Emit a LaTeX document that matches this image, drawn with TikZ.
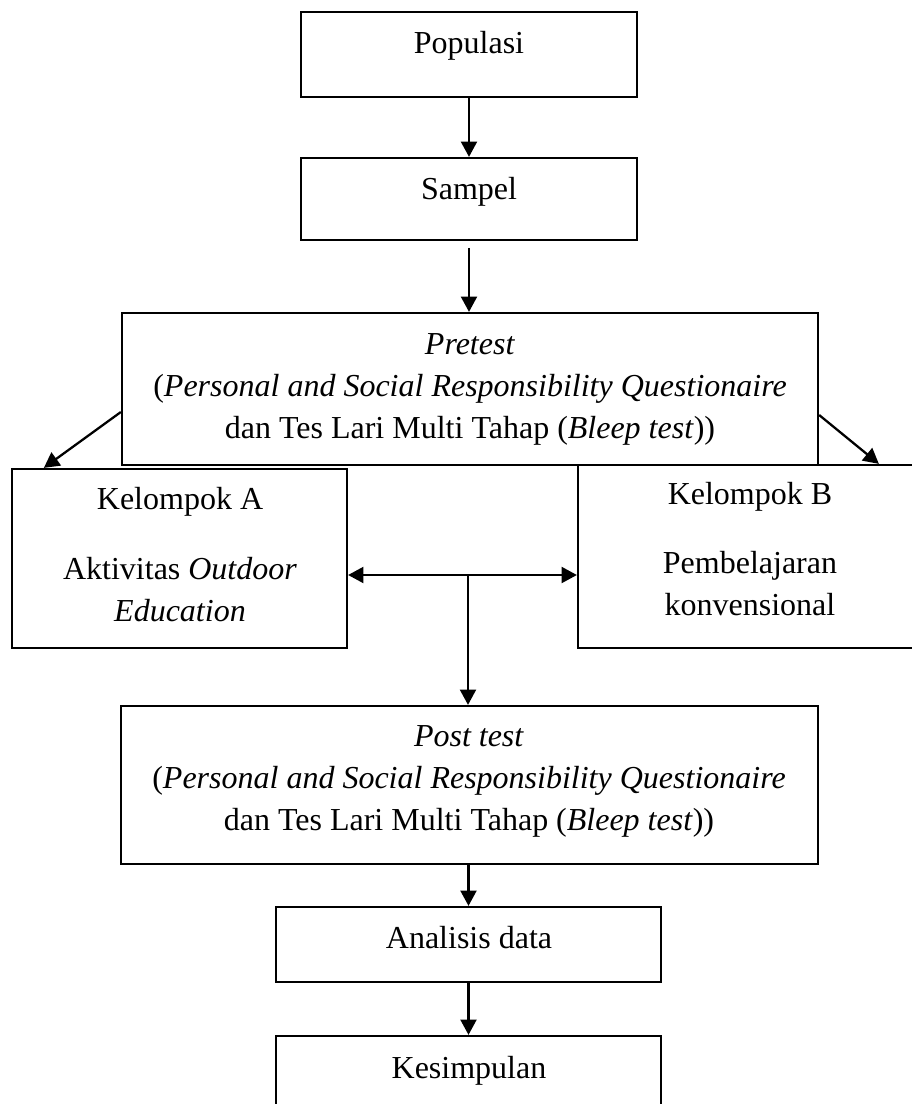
\documentclass[tikz,border=0pt]{standalone}
\usepackage{fontspec}
\setmainfont{Liberation Serif}
\usetikzlibrary{arrows.meta,calc}

\tikzset{every picture/.style={line width=1.7pt}}
\tikzset{
  box/.style={draw, rectangle, inner sep=0pt},
  txt/.style={font=\fontsize{24}{31.5}\selectfont, align=center, inner sep=0pt, anchor=base},
  arr/.style={-{Triangle[length=11.5pt,width=12pt]}}
}

\begin{document}
\begin{tikzpicture}[x=0.75pt,y=0.75pt,yscale=-1,xscale=1]
	\useasboundingbox (0,0) rectangle (912,1104);
	\clip (0,0) rectangle (912,1104);

	%Shape: Rectangles
	\node[box, minimum width=252pt, minimum height=63.75pt] (pop) at (469,54.5) {};
	\node[box, minimum width=252pt, minimum height=61.5pt] (sam) at (469,199) {};
	\node[box, minimum width=522pt, minimum height=114pt] (pre) at (470,389) {};
	\node[box, minimum width=251.25pt, minimum height=134.25pt] (ka) at (179.5,558.5) {};
	\node[box, minimum width=258pt, minimum height=137.25pt] (kb) at (750,556.5) {};
	\node[box, minimum width=522.75pt, minimum height=118.5pt] (post) at (469.5,785) {};
	\node[box, minimum width=288.75pt, minimum height=56.25pt] (ana) at (468.5,944.5) {};
	\node[box, minimum width=288.75pt, minimum height=66pt] (kes) at (468.5,1080) {};

	% Text Node (multi-line ones sit on their last line)
	\node[txt] (popt) at (469,53) {Populasi};
	\node[txt] (samt) at (469,199) {Sampel};
	\node[txt] (pret) at (470,438) {\textit{Pretest}\\(\textit{Personal and Social Responsibility Questionaire}\\dan Tes Lari Multi Tahap (\textit{Bleep test}))};
	\node[txt] (kat) at (180,509) {Kelompok A};
	\node[txt] (kat2) at (180,621) {Aktivitas \textit{Outdoor}\\\textit{Education}};
	\node[txt] (kbt) at (750,504) {Kelompok B};
	\node[txt] (kbt2) at (750,615) {Pembelajaran\\konvensional};
	\node[txt] (postt) at (469,830) {\textit{Post test}\\(\textit{Personal and Social Responsibility Questionaire}\\dan Tes Lari Multi Tahap (\textit{Bleep test}))};
	\node[txt] (anat) at (469,948) {Analisis data};
	\node[txt] (kest) at (469,1078) {Kesimpulan};

	%Straight Lines
	\coordinate (mid) at (468,575);
	\draw[arr] (pop) -- (sam);
	\draw[arr, shorten <=5pt] (sam.south) -- (sam.south |- pre.north);
	\draw[arr] ($(pre.west)+(0,23)$) -- ($(ka.north west)+(33,0)$);
	\draw[arr] ($(pre.east)+(0,26)$) -- ($(kb.north west)+(302,0)$);
	\draw[arr] (mid) -- (mid -| ka.east);
	\draw[arr] (mid) -- (mid -| kb.west);
	\draw[arr] (mid) -- (mid |- post.north);
	\draw[arr] (post.south -| ana.north) -- (ana.north);
	\draw[arr] (ana) -- (kes);

\end{tikzpicture}
\end{document}
